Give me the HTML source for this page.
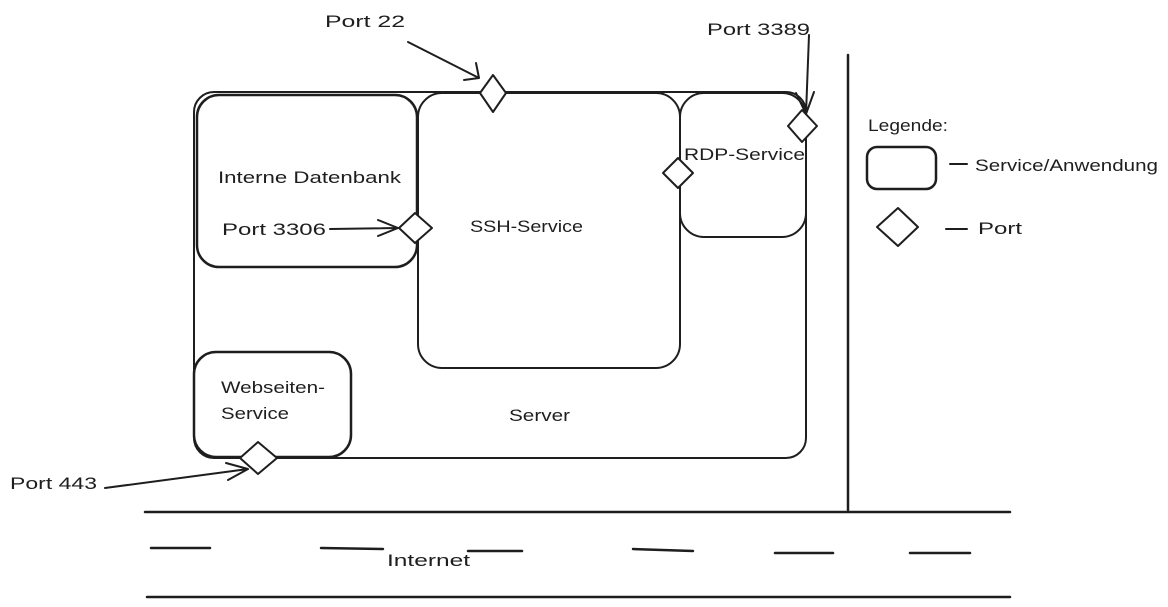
<!DOCTYPE html>
<html><head><meta charset="utf-8"><style>
html,body{margin:0;padding:0;background:#fff;}
svg{display:block;}
text{font-family:"Liberation Sans","DejaVu Sans",sans-serif;font-size:17px;fill:#1e1e1e;}
</style></head><body>
<svg width="1168" height="607" viewBox="0 0 1168 607" xmlns="http://www.w3.org/2000/svg">
<g fill="none" stroke="#1e1e1e" stroke-width="2" stroke-linecap="round" stroke-linejoin="round">
<rect x="194" y="92" width="612" height="366" rx="20"/>
<rect x="197" y="95" width="220" height="172" rx="22" stroke-width="2.5"/>
<rect x="418" y="93" width="262" height="275" rx="24"/>
<rect x="680" y="93" width="126" height="144" rx="24"/>
<rect x="194" y="352" width="157" height="105" rx="22" stroke-width="2.5"/>
<path d="M493 75 L506 93 L493 112 L480 93 Z" fill="#fff"/>
<path d="M802 110 L817 126 L802 142 L788 126 Z" fill="#fff"/>
<path d="M678 158 L693 173 L678 188 L663 173 Z" fill="#fff"/>
<path d="M415 213 L432 228 L415 243 L399 228 Z" fill="#fff"/>
<path d="M258 442 L277 458 L258 474 L240 458 Z" fill="#fff"/>
<path d="M408 42 L479 78 M476 63 L479 78 M464 80 L479 78"/>
<path d="M809 35 L806 114 M796 93 L806 114 M814 92 L806 114"/>
<path d="M330 229 L398 228 M378 220 L398 228 M378 236 L398 228"/>
<path d="M105 488 L248 469 M226 463 L248 469 M228 480 L248 469"/>
<path d="M848 55 L848 510" stroke-width="2.5"/>
<path d="M145 512 L1010 512" stroke-width="2.5"/>
<path d="M147 597 L1010 597" stroke-width="2.5"/>
<g stroke-width="2.5">
<path d="M151 548 L210 548"/>
<path d="M321 548 L383 549"/>
<path d="M468 551 L522 551"/>
<path d="M633 549 L693 551"/>
<path d="M775 553 L833 553"/>
<path d="M910 553 L970 553"/>
</g>
<rect x="867" y="147" width="69" height="42" rx="10" stroke-width="2.5"/>
<path d="M950 164 L967 164"/>
<path d="M898 208 L918 227 L898 246 L877 227 Z"/>
<path d="M946 229 L967 229"/>
</g>
<text x="325" y="27" textLength="80" lengthAdjust="spacingAndGlyphs">Port 22</text>
<text x="707" y="35" textLength="103" lengthAdjust="spacingAndGlyphs">Port 3389</text>
<text x="218" y="183" textLength="183" lengthAdjust="spacingAndGlyphs">Interne Datenbank</text>
<text x="222" y="235" textLength="104" lengthAdjust="spacingAndGlyphs">Port 3306</text>
<text x="470" y="232" textLength="113" lengthAdjust="spacingAndGlyphs">SSH-Service</text>
<text x="684" y="160" textLength="121" lengthAdjust="spacingAndGlyphs">RDP-Service</text>
<text x="221" y="393" textLength="104" lengthAdjust="spacingAndGlyphs">Webseiten-</text>
<text x="221" y="419" textLength="68" lengthAdjust="spacingAndGlyphs">Service</text>
<text x="509" y="421" textLength="61" lengthAdjust="spacingAndGlyphs">Server</text>
<text x="10" y="489" textLength="87" lengthAdjust="spacingAndGlyphs">Port 443</text>
<text x="387" y="566" textLength="83" lengthAdjust="spacingAndGlyphs">Internet</text>
<text x="868" y="131" textLength="80" lengthAdjust="spacingAndGlyphs">Legende:</text>
<text x="975" y="171" textLength="183" lengthAdjust="spacingAndGlyphs">Service/Anwendung</text>
<text x="978" y="234" textLength="44" lengthAdjust="spacingAndGlyphs">Port</text>
</svg>
</body></html>
